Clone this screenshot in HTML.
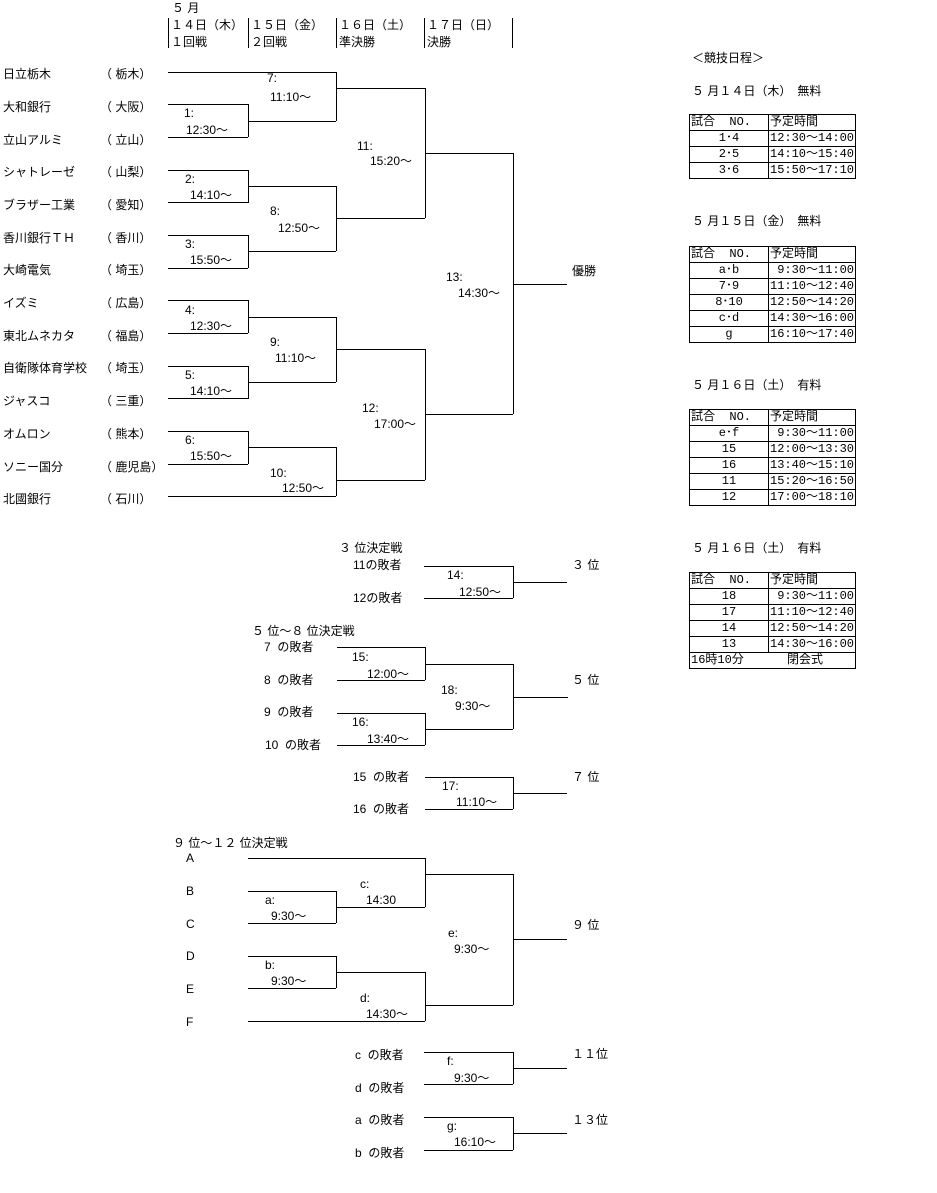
<!DOCTYPE html><html><head><meta charset="utf-8"><style>
body{margin:0;width:937px;height:1193px;background:#fff;position:relative;overflow:hidden;font-family:"Liberation Sans","Noto Sans CJK JP",sans-serif;font-size:12px;color:#000}
.t{position:absolute;line-height:14px;white-space:pre}
svg{position:absolute;left:0;top:0}
table{position:absolute;left:689px;border-collapse:collapse;font-size:12px;font-family:"Liberation Mono","Noto Sans CJK JP",monospace}
td{border:1px solid #000;height:15px;padding:0 1px;line-height:15px;white-space:pre}
td.a{width:76px;text-align:center}td.b{width:84px}
</style></head><body>
<svg width="937" height="1193" shape-rendering="crispEdges" stroke="#000" stroke-width="1" fill="none">
<path d="M168.5 18v30M248.5 18v30M336.5 18v30M424.5 18v30M512.5 18v30"/>
<path d="M168 72.5h168M168 104.5h80M168 137.5h80M248.5 104v33M248 121.5h88M336.5 72v49M336 88.5h89"/>
<path d="M168 170.5h80M168 202.5h80M248.5 170v33M248 186.5h88M168 235.5h80M168 268.5h80M248.5 235v33M248 251.5h88M336.5 186v65M336 218.5h89M425.5 88v130M425 153.5h88"/>
<path d="M168 300.5h80M168 333.5h80M248.5 300v33M248 317.5h88M168 366.5h80M168 398.5h80M248.5 366v33M248 382.5h88M336.5 317v65M336 349.5h89"/>
<path d="M168 431.5h80M168 464.5h80M248.5 431v33M248 447.5h88M168 496.5h168M336.5 447v49M336 480.5h89M425.5 349v131M425 414.5h88M513.5 153v261M513 284.5h54"/>
<path d="M424 566.5h89M424 598.5h89M513.5 566v32M513 582.5h54"/>
<path d="M337 647.5h88M337 680.5h88M425.5 647v33M337 713.5h88M337 745.5h88M425.5 713v32M425 664.5h88M425 729.5h88M513.5 664v65M513 697.5h55"/>
<path d="M425 777.5h88M425 809.5h88M513.5 777v32M513 793.5h54"/>
<path d="M248 858.5h177M248 891.5h88M248 923.5h88M336.5 891v32M336 907.5h89M425.5 858v49M425 874.5h88"/>
<path d="M248 956.5h88M248 988.5h88M336.5 956v32M336 972.5h89M248 1021.5h177M425.5 972v49M425 1005.5h88M513.5 874v131M513 939.5h54"/>
<path d="M424 1052.5h89M424 1084.5h89M513.5 1052v32M513 1068.5h54M424 1117.5h89M424 1150.5h89M513.5 1117v33M513 1133.5h54"/>
</svg>
<div class="t" style="left:172px;top:1px">５ 月</div>
<div class="t" style="left:171px;top:18px">１４日（木）</div><div class="t" style="left:251px;top:18px">１５日（金）</div><div class="t" style="left:339px;top:18px">１６日（土）</div><div class="t" style="left:427px;top:18px">１７日（日）</div>
<div class="t" style="left:171px;top:35px">１回戦</div><div class="t" style="left:251px;top:35px">２回戦</div><div class="t" style="left:339px;top:35px">準決勝</div><div class="t" style="left:427px;top:35px">決勝</div>
<div class="t" style="left:3px;top:67px">日立栃木</div><div class="t" style="left:100px;top:67px">（ 栃木）</div>
<div class="t" style="left:3px;top:100px">大和銀行</div><div class="t" style="left:100px;top:100px">（ 大阪）</div>
<div class="t" style="left:3px;top:133px">立山アルミ</div><div class="t" style="left:100px;top:133px">（ 立山）</div>
<div class="t" style="left:3px;top:165px">シャトレーゼ</div><div class="t" style="left:100px;top:165px">（ 山梨）</div>
<div class="t" style="left:3px;top:198px">ブラザー工業</div><div class="t" style="left:100px;top:198px">（ 愛知）</div>
<div class="t" style="left:3px;top:231px">香川銀行ＴＨ</div><div class="t" style="left:100px;top:231px">（ 香川）</div>
<div class="t" style="left:3px;top:263px">大崎電気</div><div class="t" style="left:100px;top:263px">（ 埼玉）</div>
<div class="t" style="left:3px;top:296px">イズミ</div><div class="t" style="left:100px;top:296px">（ 広島）</div>
<div class="t" style="left:3px;top:329px">東北ムネカタ</div><div class="t" style="left:100px;top:329px">（ 福島）</div>
<div class="t" style="left:3px;top:361px">自衛隊体育学校</div><div class="t" style="left:100px;top:361px">（ 埼玉）</div>
<div class="t" style="left:3px;top:394px">ジャスコ</div><div class="t" style="left:100px;top:394px">（ 三重）</div>
<div class="t" style="left:3px;top:427px">オムロン</div><div class="t" style="left:100px;top:427px">（ 熊本）</div>
<div class="t" style="left:3px;top:460px">ソニー国分</div><div class="t" style="left:100px;top:460px">（ 鹿児島）</div>
<div class="t" style="left:3px;top:492px">北國銀行</div><div class="t" style="left:100px;top:492px">（ 石川）</div>
<div class="t" style="left:267px;top:71px">7:</div><div class="t" style="left:270px;top:90px">11:10～</div>
<div class="t" style="left:184px;top:106px">1:</div><div class="t" style="left:186px;top:123px">12:30～</div>
<div class="t" style="left:357px;top:139px">11:</div><div class="t" style="left:370px;top:154px">15:20～</div>
<div class="t" style="left:185px;top:172px">2:</div><div class="t" style="left:190px;top:188px">14:10～</div>
<div class="t" style="left:270px;top:204px">8:</div><div class="t" style="left:278px;top:221px">12:50～</div>
<div class="t" style="left:185px;top:237px">3:</div><div class="t" style="left:190px;top:253px">15:50～</div>
<div class="t" style="left:446px;top:270px">13:</div><div class="t" style="left:458px;top:286px">14:30～</div>
<div class="t" style="left:185px;top:303px">4:</div><div class="t" style="left:190px;top:319px">12:30～</div>
<div class="t" style="left:270px;top:335px">9:</div><div class="t" style="left:275px;top:351px">11:10～</div>
<div class="t" style="left:185px;top:368px">5:</div><div class="t" style="left:190px;top:384px">14:10～</div>
<div class="t" style="left:362px;top:401px">12:</div><div class="t" style="left:374px;top:417px">17:00～</div>
<div class="t" style="left:185px;top:433px">6:</div><div class="t" style="left:190px;top:449px">15:50～</div>
<div class="t" style="left:270px;top:466px">10:</div><div class="t" style="left:282px;top:481px">12:50～</div>
<div class="t" style="left:572px;top:264px">優勝</div>
<div class="t" style="left:339px;top:541px">３ 位決定戦</div>
<div class="t" style="left:353px;top:558px">11の敗者</div><div class="t" style="left:353px;top:591px">12の敗者</div>
<div class="t" style="left:447px;top:568px">14:</div><div class="t" style="left:459px;top:585px">12:50～</div><div class="t" style="left:572px;top:558px">３ 位</div>
<div class="t" style="left:252px;top:624px">５ 位～８ 位決定戦</div>
<div class="t" style="left:264px;top:640px">7  の敗者</div><div class="t" style="left:264px;top:673px">8  の敗者</div><div class="t" style="left:264px;top:705px">9  の敗者</div><div class="t" style="left:265px;top:738px">10  の敗者</div>
<div class="t" style="left:352px;top:650px">15:</div><div class="t" style="left:367px;top:667px">12:00～</div>
<div class="t" style="left:441px;top:683px">18:</div><div class="t" style="left:455px;top:699px">9:30～</div>
<div class="t" style="left:352px;top:715px">16:</div><div class="t" style="left:367px;top:732px">13:40～</div>
<div class="t" style="left:572px;top:673px">５ 位</div>
<div class="t" style="left:353px;top:770px">15  の敗者</div><div class="t" style="left:353px;top:802px">16  の敗者</div>
<div class="t" style="left:442px;top:779px">17:</div><div class="t" style="left:456px;top:795px">11:10～</div><div class="t" style="left:572px;top:770px">７ 位</div>
<div class="t" style="left:173px;top:836px">９ 位～１２ 位決定戦</div>
<div class="t" style="left:186px;top:851px">A</div><div class="t" style="left:186px;top:884px">B</div><div class="t" style="left:186px;top:917px">C</div><div class="t" style="left:186px;top:949px">D</div><div class="t" style="left:186px;top:982px">E</div><div class="t" style="left:186px;top:1015px">F</div>
<div class="t" style="left:265px;top:893px">a:</div><div class="t" style="left:271px;top:909px">9:30～</div>
<div class="t" style="left:360px;top:877px">c:</div><div class="t" style="left:366px;top:893px">14:30</div>
<div class="t" style="left:265px;top:958px">b:</div><div class="t" style="left:271px;top:974px">9:30～</div>
<div class="t" style="left:360px;top:991px">d:</div><div class="t" style="left:366px;top:1007px">14:30～</div>
<div class="t" style="left:448px;top:926px">e:</div><div class="t" style="left:454px;top:942px">9:30～</div><div class="t" style="left:572px;top:918px">９ 位</div>
<div class="t" style="left:355px;top:1048px">c  の敗者</div><div class="t" style="left:355px;top:1081px">d  の敗者</div>
<div class="t" style="left:447px;top:1054px">f:</div><div class="t" style="left:454px;top:1071px">9:30～</div><div class="t" style="left:572px;top:1047px">１１位</div>
<div class="t" style="left:355px;top:1113px">a  の敗者</div><div class="t" style="left:355px;top:1146px">b  の敗者</div>
<div class="t" style="left:447px;top:1119px">g:</div><div class="t" style="left:454px;top:1135px">16:10～</div><div class="t" style="left:572px;top:1113px">１３位</div>
<div class="t" style="left:692px;top:51px">＜競技日程＞</div>
<div class="t" style="left:692px;top:84px">５ 月１４日（木）　無料</div>
<table style="top:114px"><tr><td class="b" style="width:76px">試合  NO.</td><td class="b">予定時間</td></tr><tr><td class="a">1･4</td><td class="b">12:30～14:00</td></tr><tr><td class="a">2･5</td><td class="b">14:10～15:40</td></tr><tr><td class="a">3･6</td><td class="b">15:50～17:10</td></tr></table>
<div class="t" style="left:692px;top:214px">５ 月１５日（金）　無料</div>
<table style="top:246px"><tr><td class="b" style="width:76px">試合  NO.</td><td class="b">予定時間</td></tr><tr><td class="a">a･b</td><td class="b"> 9:30～11:00</td></tr><tr><td class="a">7･9</td><td class="b">11:10～12:40</td></tr><tr><td class="a">8･10</td><td class="b">12:50～14:20</td></tr><tr><td class="a">c･d</td><td class="b">14:30～16:00</td></tr><tr><td class="a">g</td><td class="b">16:10～17:40</td></tr></table>
<div class="t" style="left:692px;top:378px">５ 月１６日（土）　有料</div>
<table style="top:409px"><tr><td class="b" style="width:76px">試合  NO.</td><td class="b">予定時間</td></tr><tr><td class="a">e･f</td><td class="b"> 9:30～11:00</td></tr><tr><td class="a">15</td><td class="b">12:00～13:30</td></tr><tr><td class="a">16</td><td class="b">13:40～15:10</td></tr><tr><td class="a">11</td><td class="b">15:20～16:50</td></tr><tr><td class="a">12</td><td class="b">17:00～18:10</td></tr></table>
<div class="t" style="left:692px;top:541px">５ 月１６日（土）　有料</div>
<table style="top:572px"><tr><td class="b" style="width:76px">試合  NO.</td><td class="b">予定時間</td></tr><tr><td class="a">18</td><td class="b"> 9:30～11:00</td></tr><tr><td class="a">17</td><td class="b">11:10～12:40</td></tr><tr><td class="a">14</td><td class="b">12:50～14:20</td></tr><tr><td class="a">13</td><td class="b">14:30～16:00</td></tr><tr><td colspan="2" style="border-right:1px solid #000">16時10分      閉会式</td></tr></table>
</body></html>
